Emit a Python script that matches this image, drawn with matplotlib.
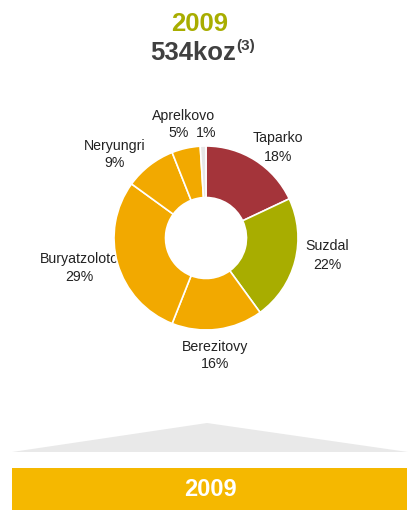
import matplotlib.pyplot as plt
from matplotlib.patches import Polygon, Rectangle

plt.rcParams['font.family'] = ['Liberation Sans', 'DejaVu Sans']

W, H = 414, 514

# data
mines = ["Taparko", "Suzdal", "Berezitovy", "Buryatzoloto", "Neryungri", "Aprelkovo", ""]
shares = [18, 22, 16, 29, 9, 5, 1]
colors = ["#A4343A", "#A8AD00", "#F2A900", "#F2A900", "#F2A900", "#F2A900", "#E6E6E6"]
year = "2009"
total = "534koz"

fig = plt.figure(figsize=(W / 100, H / 100), dpi=100)

# background axes in pixel coordinates
bg = fig.add_axes([0, 0, 1, 1])
bg.set_xlim(0, W)
bg.set_ylim(H, 0)
bg.axis("off")

bg.text(200, 24, year, color="#A8AD00", fontsize=18.5, fontweight="bold",
        ha="center", va="center")
bg.text(236, 53, total, color="#404040", fontsize=18.5, fontweight="bold",
        ha="right", va="center")
bg.text(236, 46, "(3)", color="#404040", fontsize=11, fontweight="bold",
        ha="left", va="center")

# bottom decoration
bg.add_patch(Polygon([(12, 452), (207, 423), (408, 452)], closed=True,
                     facecolor="#E9E9E9", edgecolor="none"))
bg.add_patch(Rectangle((12, 468), 395, 42, facecolor="#F5B800", edgecolor="none"))
bg.text(210, 490, year, color="white", fontsize=17, fontweight="bold",
        ha="center", va="center")

# donut
cx, cy, r = 206, 238, 92
pie_ax = fig.add_axes([(cx - r) / W, 1 - (cy + r) / H, 2 * r / W, 2 * r / H])
pie_ax.pie(shares, colors=colors, startangle=90, counterclock=False,
           radius=1.0, wedgeprops=dict(width=0.56, edgecolor="white", linewidth=1.2))
pie_ax.set_xlim(-1, 1)
pie_ax.set_ylim(-1, 1)
pie_ax.set_aspect("auto")
pie_ax.axis("off")

# labels (pixel positions: x, name y, pct y)
label_pos = [(278, 138, 157), (327, 246, 265), (215, 347, 364),
             (79, 259, 277), (115, 146, 163), (184, 116, None)]
fs = 10.2
for name, pct, (x, y1, y2) in zip(mines, shares, label_pos):
    bg.text(x, y1, name, fontsize=fs, color="#222222", ha="center", va="center")
    if y2 is not None:
        bg.text(x, y2, f"{pct}%", fontsize=fs, color="#222222", ha="center", va="center")
bg.text(179, 133, f"{shares[5]}%", fontsize=fs, color="#222222", ha="center", va="center")
bg.text(206, 133, f"{shares[6]}%", fontsize=fs, color="#222222", ha="center", va="center")

fig.savefig("out.png", dpi=100)
